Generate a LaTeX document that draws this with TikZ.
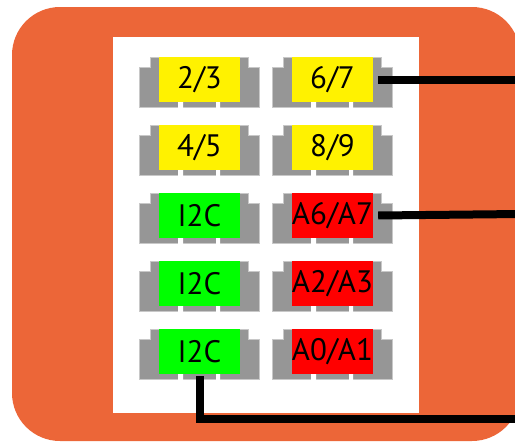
\documentclass[tikz,border=0pt]{standalone}
\usepackage{fontspec}
\setmainfont{PT Sans}
\usepackage{tikz}
\usetikzlibrary{calc}

\definecolor{boardorange}{RGB}{236,102,56}
\definecolor{padgray}{RGB}{150,150,150}
\definecolor{padedge}{RGB}{200,200,200}

\tikzset{
  chipbody/.style={fill=padgray,draw=padedge,line width=0.6pt},
  pinlabel/.style={minimum width=81pt,minimum height=45pt,inner sep=0pt,
    font=\fontsize{31}{33}\selectfont},
  wire/.style={line width=8pt,black}
}

\begin{document}
\begin{tikzpicture}[x=1pt,y=-1pt]
  \useasboundingbox (0,0) rectangle (515,442);
  \fill[boardorange,rounded corners=48pt] (12,7) rectangle (520,441);
  \fill[white] (113,37) rectangle (419,413);
  % pad bodies
  \foreach \x in {139,272}
    \foreach \y in {57,125,193,261,329}
    {
      \filldraw[chipbody,shift={(\x,\y)}] (0,10) -- (11,10) -- (11,0) -- (109,0)
        -- (109,10) -- (120,10) -- (120,50) -- (0,50) -- cycle;
      \fill[white,shift={(\x,\y)}] (39,45) rectangle (44,51) (77,45) rectangle (81,51);
    }
  % labels
  \node[pinlabel,fill=yellow] (p23) at (199.5,79.5) {2/3};
  \node[pinlabel,fill=yellow] (p67) at (332.5,79.5) {6/7};
  \node[pinlabel,fill=yellow] (p45) at (199.5,147.5) {4/5};
  \node[pinlabel,fill=yellow] (p89) at (332.5,147.5) {8/9};
  \node[pinlabel,fill=green] (i2ca) at (199.5,215.5) {I2C};
  \node[pinlabel,fill=red] (a67) at (332.5,215.5) {A6/A7};
  \node[pinlabel,fill=green] (i2cb) at (199.5,283.5) {I2C};
  \node[pinlabel,fill=red] (a23) at (332.5,283.5) {A2/A3};
  \node[pinlabel,fill=green] (i2cc) at (199.5,351.5) {I2C};
  \node[pinlabel,fill=red] (a01) at (332.5,351.5) {A0/A1};
  % wires
  \coordinate (wire1) at (520,79.5);
  \coordinate (wire2) at (520,214);
  \coordinate (wire3) at (520,419);
  \draw[wire] ([xshift=5pt]p67.east) -- (wire1);
  \draw[wire] ([xshift=5pt]a67.east) -- (wire2);
  \draw[wire] ([yshift=-2pt]i2cc.south) |- (wire3);
\end{tikzpicture}
\end{document}
